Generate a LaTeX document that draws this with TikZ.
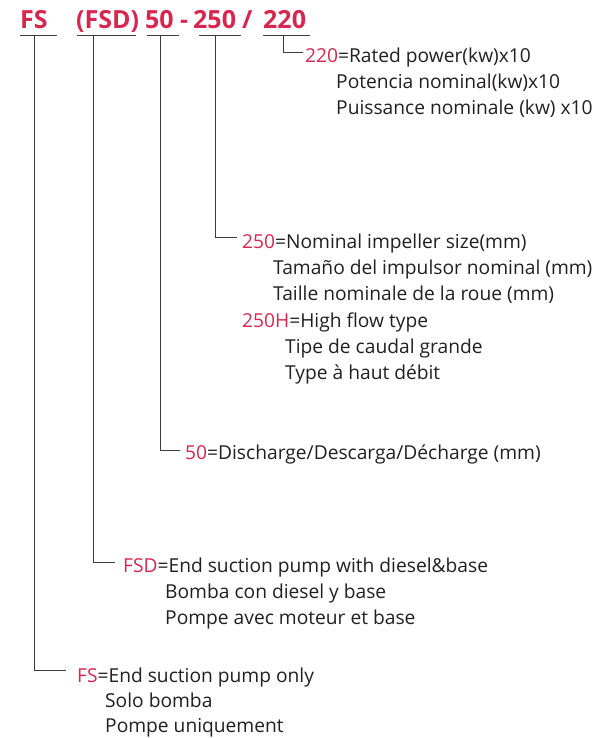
\documentclass[tikz,border=0pt]{standalone}
\usepackage{fontspec}
\setmainfont{Open Sans}
\definecolor{codered}{HTML}{D7264F}
\definecolor{ink}{HTML}{231F20}
\definecolor{rulegray}{HTML}{3C3C3C}
\newcommand{\cd}[1]{\textcolor{codered}{#1}}
\begin{document}
\begin{tikzpicture}[x=1pt,y=-1pt,
  desc/.style={anchor=base west,inner sep=0pt,text=ink,font=\fontsize{19.2}{23}\selectfont},
  code/.style={anchor=base west,inner sep=0pt,text=codered,font=\fontsize{25}{30}\selectfont\bfseries},
  leader/.style={draw=rulegray,line width=0.9pt}]
\useasboundingbox (0,0) rectangle (597,738);

% model code
\node[code] (tFS)   at (20,29)  {FS};
\node[code] (tFSD)  at (76,29)  {(FSD)};
\node[code] (t50)   at (145,29) {50};
\node[code] (tdash) at (180,29) {-};
\node[code] (t250)  at (193,29) {250};
\node[code] (tsl)   at (242,29) {/};
\node[code] (t220)  at (263,29) {220};

% underlines under each field
\draw[leader] (20,35)  -- (57,35);
\draw[leader] (77,35)  -- (136,35);
\draw[leader] (147,35) -- (179,35);
\draw[leader] (199,35) -- (241,35);
\draw[leader] (263,35) -- (310,35);

% field descriptions
\node[desc] (d220a) at (305,63)  {\cd{220}=Rated power(kw)x10};
\node[desc] (d220b) at (336,89)  {Potencia nominal(kw)x10};
\node[desc] (d220c) at (336,115) {Puissance nominale (kw) x10};

\node[desc] (d250a) at (242,248) {\cd{250}=Nominal impeller size(mm)};
\node[desc] (d250b) at (273,274) {Tamaño del impulsor nominal (mm)};
\node[desc] (d250c) at (273,300) {Taille nominale de la roue (mm)};
\node[desc] (d250d) at (242,327) {\cd{250H}=High flow type};
\node[desc] (d250e) at (285,353) {Tipe de caudal grande};
\node[desc] (d250f) at (285,379) {Type à haut débit};

\node[desc] (d50)   at (185,459) {\cd{50}=Discharge/Descarga/Décharge (mm)};

\node[desc] (dFSDa) at (123,572) {\cd{FSD}=End suction pump with diesel\&base};
\node[desc] (dFSDb) at (165,598) {Bomba con diesel y base};
\node[desc] (dFSDc) at (165,624) {Pompe avec moteur et base};

\node[desc] (dFSa)  at (77,682)  {\cd{FS}=End suction pump only};
\node[desc] (dFSb)  at (105,707) {Solo bomba};
\node[desc] (dFSc)  at (105,732) {Pompe uniquement};

% leader ends
\coordinate (e220) at (303,52);
\coordinate (e250) at (237,237);
\coordinate (e50)  at (180,450);
\coordinate (eFSD) at (115,562);
\coordinate (eFS)  at (66,670);

% leaders from each underline down to its description
\draw[leader] (283,35) |- (e220);
\draw[leader] (215,35) |- (e250);
\draw[leader] (160,35) |- (e50);
\draw[leader] (93,35)  |- (eFSD);
\draw[leader] (34,35)  |- (eFS);
\end{tikzpicture}
\end{document}
